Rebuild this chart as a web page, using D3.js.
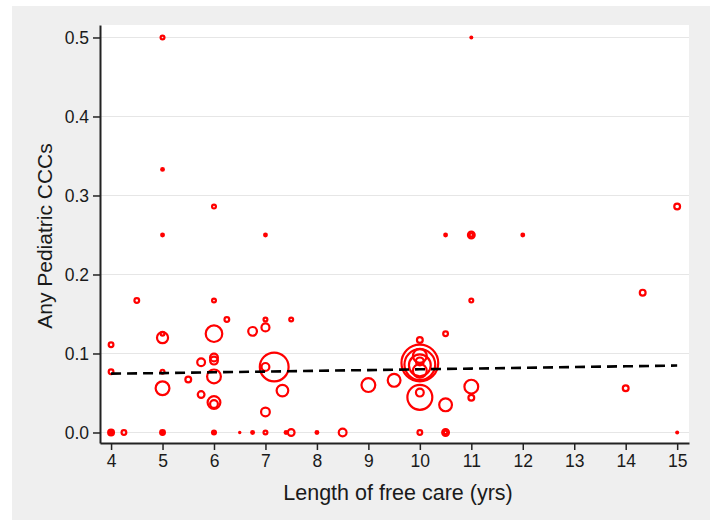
<!DOCTYPE html>
<html>
<head>
<meta charset="utf-8">
<script src="https://cdn.jsdelivr.net/npm/d3@7/dist/d3.min.js"></script>
<style>
  html, body { margin: 0; padding: 0; background: #ffffff; }
  svg { display: block; }
  text { font-family: "Liberation Sans", Arial, Helvetica, sans-serif; fill: #1a1a1a; }
</style>
</head>
<body>
<svg id="chart" width="710" height="520"></svg>
<script>
// Observed groups: length of free care (yrs), share with any pediatric CCC, group weight
const careYears = [
  5, 5, 6, 5, 7, 11, 10.5, 11, 11, 12, 15, 14.33, 14, 15,
  4.5, 6, 4, 6.25, 7, 7.5, 5, 5, 6, 6.75, 7,
  4, 5, 5, 5.5, 5.75, 6, 6, 6, 5.75, 6, 6,
  7, 7.17, 7.33, 7,
  4, 4, 4.25, 5, 5, 6, 6, 6.5, 6.75, 7, 7.4, 7.5, 8, 8.5, 10, 10.5, 10.5,
  10, 10.5, 11,
  10, 10, 10, 10, 10, 10,
  9, 9.5, 10, 10, 10.5, 11, 11
];
const cccShare = [
  0.5, 0.333, 0.286, 0.25, 0.25, 0.5, 0.25, 0.25, 0.25, 0.25, 0.286, 0.177, 0.056, 0,
  0.167, 0.167, 0.111, 0.143, 0.143, 0.143, 0.125, 0.12, 0.125, 0.128, 0.133,
  0.077, 0.077, 0.056, 0.067, 0.089, 0.095, 0.091, 0.071, 0.048, 0.038, 0.036,
  0.083, 0.083, 0.053, 0.026,
  0, 0, 0, 0, 0, 0, 0, 0, 0, 0, 0, 0, 0, 0, 0, 0, 0,
  0.117, 0.125, 0.167,
  0.088, 0.086, 0.085, 0.097, 0.078, 0.09,
  0.06, 0.066, 0.0445, 0.0505, 0.035, 0.058, 0.044
];
const groupWeight = [
  2.3, 1.5, 2.3, 1.5, 1.5, 1, 1.5, 5, 2, 1.5, 4, 4, 4, 1,
  3, 2.3, 3, 3, 2.3, 2.3, 2.3, 11, 22, 7.5, 6.5,
  3, 2.3, 16, 4, 6.25, 6.25, 6.25, 16, 5, 14, 6.25,
  6.25, 60, 12, 7.5,
  4, 1.5, 3, 3, 1, 2.3, 1, 0.7, 1.5, 2.3, 1.5, 5, 1.5, 6.25, 3, 5, 2,
  4, 3, 2.3,
  95, 68, 36, 16, 16, 6.25,
  16, 14, 46, 6.25, 14, 16, 4
];

// Fitted line
const fitYears = [4, 5, 6, 7, 8, 9, 10, 11, 12, 13, 14, 15];
const fitShare = [0.0745, 0.0752, 0.0762, 0.0771, 0.0781, 0.0790, 0.0800, 0.0809, 0.0818, 0.0828, 0.0838, 0.0848];

const xTicks = [4, 5, 6, 7, 8, 9, 10, 11, 12, 13, 14, 15];
const yTicks = [0, 0.1, 0.2, 0.3, 0.4, 0.5];

const xTitle = "Length of free care (yrs)";
const yTitle = "Any Pediatric CCCs";

const points = careYears.map((c, i) => ({ x: c, y: cccShare[i], w: groupWeight[i] }))
  .sort((a, b) => b.w - a.w);

const svg = d3.select("#chart");

// outer panel
svg.append("rect").attr("x", 12).attr("y", 6).attr("width", 698).attr("height", 514).attr("fill", "#efefef");

const plot = { left: 100, right: 689, top: 25, bottom: 443 };
svg.append("rect")
  .attr("x", plot.left).attr("y", plot.top)
  .attr("width", plot.right - plot.left).attr("height", plot.bottom - plot.top)
  .attr("fill", "#ffffff");

const x = d3.scaleLinear().domain([3.785, 15.23]).range([plot.left, plot.right]);
const y = d3.scaleLinear().domain([-0.0133, 0.5158]).range([plot.bottom, plot.top]);
const r = d3.scaleSqrt().domain([0, 100]).range([0, 20]);

// horizontal grid
svg.append("g").selectAll("line").data(yTicks).join("line")
  .attr("x1", plot.left).attr("x2", plot.right)
  .attr("y1", d => y(d)).attr("y2", d => y(d))
  .attr("stroke", "#e6e6e6").attr("stroke-width", 1.2);

// markers: hollow rings, small ones read as solid dots
const stroke = 2.2;
const solidBelow = 2.6;
svg.append("g").selectAll("circle").data(points).join("circle")
  .attr("cx", d => x(d.x)).attr("cy", d => y(d.y))
  .attr("r", d => { const R = r(d.w); return R < solidBelow ? R : R - stroke / 2; })
  .attr("fill", d => r(d.w) < solidBelow ? "#ff0000" : "none")
  .attr("stroke", d => r(d.w) < solidBelow ? "none" : "#ff0000")
  .attr("stroke-width", stroke);

// fitted line
const line = d3.line().x(d => x(d[0])).y(d => y(d[1]));
svg.append("path")
  .datum(fitYears.map((v, i) => [v, fitShare[i]]))
  .attr("d", line)
  .attr("fill", "none")
  .attr("stroke", "#000")
  .attr("stroke-width", 2.6)
  .attr("stroke-dasharray", "10,6");

// axes
const yAxis = d3.axisLeft(y).tickValues(yTicks).tickFormat(d3.format(".1f")).tickSize(7).tickSizeOuter(0).tickPadding(4);
const gy = svg.append("g").attr("transform", `translate(${plot.left},0)`).call(yAxis);
const xAxis = d3.axisBottom(x).tickValues(xTicks).tickFormat(d3.format("d")).tickSize(7).tickSizeOuter(0).tickPadding(5);
const gx = svg.append("g").attr("transform", `translate(0,${plot.bottom})`).call(xAxis);

[gx, gy].forEach(g => {
  g.select(".domain").attr("stroke", "#222").attr("stroke-width", 2);
  g.selectAll(".tick line").attr("stroke", "#222").attr("stroke-width", 1.5);
  g.selectAll(".tick text").attr("font-size", 17.5).attr("fill", "#1a1a1a")
    .style("font-family", '"Liberation Sans", Arial, sans-serif');
});

// titles
svg.append("text")
  .attr("x", 398).attr("y", 500)
  .attr("text-anchor", "middle").attr("font-size", 21.5)
  .text(xTitle);

svg.append("text")
  .attr("transform", "translate(52,236) rotate(-90)")
  .attr("text-anchor", "middle").attr("font-size", 21)
  .text(yTitle);
</script>
</body>
</html>
